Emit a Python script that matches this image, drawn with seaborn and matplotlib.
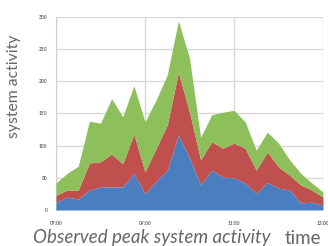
import numpy as np
import matplotlib
matplotlib.use("Agg")
import matplotlib.pyplot as plt
import seaborn as sns

# data, 15 minute steps from 07:00 to 13:00
blue = [12, 20, 17, 31, 36, 36, 36, 57, 25, 45, 62, 117, 81, 39, 62, 51, 50, 42, 26, 43, 34, 31, 11, 12, 8]
red = [11, 11, 14, 42, 39, 51, 36, 61, 34, 51, 70, 97, 71, 39, 44, 45, 54, 54, 36, 47, 33, 23, 28, 19, 12]
green = [19, 26, 37, 65, 60, 86, 73, 75, 78, 75, 78, 80, 84, 35, 42, 56, 51, 41, 31, 31, 37, 24, 18, 11, 8]
tick_pos = [0, 8, 16, 24]
tick_labels = ["07:00", "09:00", "11:00", "13:00"]
y_ticks = [0, 50, 100, 150, 200, 250, 300]

sns.set_style("white")
plt.rcParams['font.family'] = ['Lato', 'DejaVu Sans']

fig = plt.figure(figsize=(3.28, 2.46), dpi=100)
ax = fig.add_axes([56/328, 1-210/246, 267/328, 193/246])

x = np.arange(len(blue))
ax.stackplot(x, blue, red, green, colors=["#4a7ebf", "#c0504d", "#8dbf5a"], lw=0, zorder=3)

ax.set_xlim(0, 24)
ax.set_ylim(0, 300)
ax.set_xticks(tick_pos)
ax.set_xticklabels(tick_labels, fontweight="bold")
ax.set_yticks(y_ticks)
ax.set_yticklabels(y_ticks, fontweight="bold")
ax.grid(True, color="#d8d8d8", lw=1, zorder=0)
ax.set_axisbelow(True)
for s in ["top", "right", "bottom"]:
    ax.spines[s].set_visible(False)
ax.spines["left"].set_color("#cfcfcf")
ax.tick_params(axis="both", labelsize=3.5, colors="#666666", length=2, width=0.6, pad=6)
ax.tick_params(axis="y", length=0)

fig.text(14/328, 1-86/246, "system activity", rotation=90, ha="center", va="center",
         fontsize=11.3, color="#666666")
fig.text(33/328, 1-238/246, "Observed peak system activity", ha="left", va="center",
         fontsize=13.5, style="italic", color="#666666")
fig.text(285/328, 1-238/246, "time", ha="left", va="center", fontsize=13.5,
         color="#666666")

fig.savefig("out.png", dpi=100)
